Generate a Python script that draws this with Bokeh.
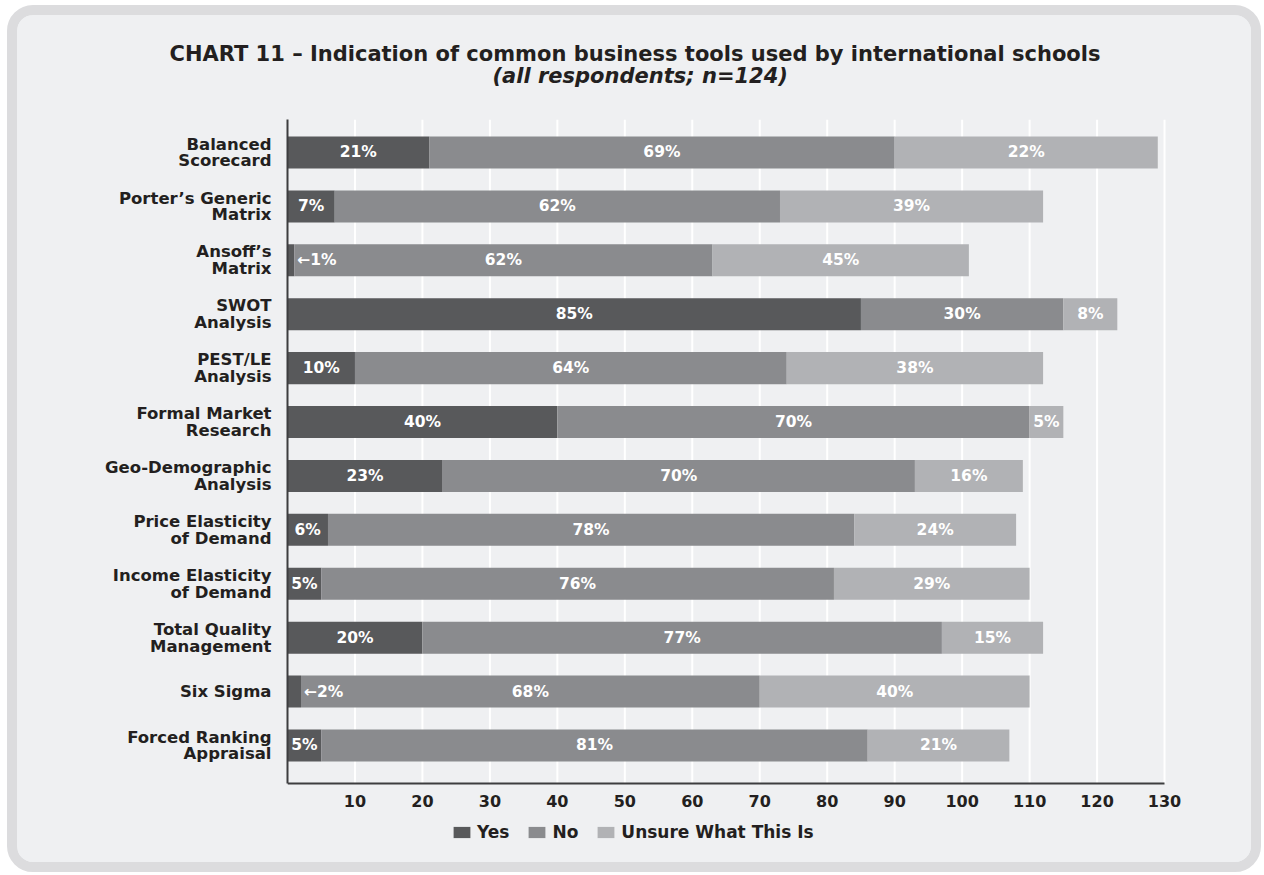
from bokeh.plotting import figure
from bokeh.models import (ColumnDataSource, Range1d, FixedTicker, Legend,
                          LegendItem, LabelSet, Title)
from bokeh.core.properties import value
from bokeh.embed import file_html
from bokeh.resources import INLINE

# ---------------- data ----------------
categories = ["Balanced\nScorecard", "Porter\u2019s Generic\nMatrix", "Ansoff\u2019s\nMatrix",
              "SWOT\nAnalysis", "PEST/LE\nAnalysis", "Formal Market\nResearch",
              "Geo-Demographic\nAnalysis", "Price Elasticity\nof Demand",
              "Income Elasticity\nof Demand", "Total Quality\nManagement",
              "Six Sigma", "Forced Ranking\nAppraisal"]
yes = [21, 7, 1, 85, 10, 40, 23, 6, 5, 20, 2, 5]
no = [69, 66, 62, 30, 64, 70, 70, 78, 76, 77, 68, 81]
unsure = [39, 39, 38, 8, 38, 5, 16, 24, 29, 15, 40, 21]
yes_labels = ["21%", "7%", "1%", "85%", "10%", "40%", "23%", "6%", "5%", "20%", "2%", "5%"]
no_labels = ["69%", "62%", "62%", "30%", "64%", "70%", "70%", "78%", "76%", "77%", "68%", "81%"]
unsure_labels = ["22%", "39%", "45%", "8%", "38%", "5%", "16%", "24%", "29%", "15%", "40%", "21%"]
series_names = ["Yes", "No", "Unsure What This Is"]
x_ticks = [10, 20, 30, 40, 50, 60, 70, 80, 90, 100, 110, 120, 130]
title_text = "CHART 11 \u2013 Indication of common business tools used by international schools"
subtitle_text = "(all respondents; n=124)"

colors = ["#58595b", "#8a8b8e", "#b1b2b5"]
FONT = "DejaVu Sans"
DARK = "#231f20"
BG = "#eff0f2"

n = len(categories)
ys = list(range(n))
yes_end = yes[:]
no_end = [a + b for a, b in zip(yes, no)]
un_end = [a + b for a, b in zip(no_end, unsure)]

# layout of the axes (data units)
X_MAX = 130
X_VIEW = 132.96          # a little room to the right so the last tick label is not cut
Y_TOP = -0.612
Y_AXIS = 11.705
Y_BOTTOM = 12.818

src = ColumnDataSource(dict(
    y=ys, yes_l=[0] * n, yes_r=yes_end, no_l=yes_end, no_r=no_end,
    un_l=no_end, un_r=un_end,
))

p = figure(width=1234, height=847, output_backend="svg", toolbar_location=None,
           x_range=Range1d(0, X_VIEW), y_range=Range1d(Y_BOTTOM, Y_TOP),
           min_border_left=270, min_border_right=87, min_border_top=104,
           min_border_bottom=39)
p.styles = {"position": "absolute", "left": "7px", "top": "5px",
            "border": "10px solid #dcdcde", "border-radius": "26px",
            "overflow": "hidden", "box-sizing": "content-box",
            "background-color": BG}
p.border_fill_color = BG
p.background_fill_color = BG
p.outline_line_color = None

# vertical white grid lines (from the tick list), ending at the x axis
p.segment(x0=x_ticks, x1=x_ticks, y0=[Y_TOP] * len(x_ticks), y1=[Y_AXIS] * len(x_ticks),
          line_color="white", line_width=2, level="underlay")

h = 0.594
r_yes = p.hbar(y="y", left="yes_l", right="yes_r", height=h, source=src,
               fill_color=colors[0], line_color=None)
r_no = p.hbar(y="y", left="no_l", right="no_r", height=h, source=src,
              fill_color=colors[1], line_color=None)
r_un = p.hbar(y="y", left="un_l", right="un_r", height=h, source=src,
              fill_color=colors[2], line_color=None)

# bar labels
lx, ly, lt, la, lo = [], [], [], [], []
for i in range(n):
    if yes[i] < 3:
        lx.append(yes_end[i]); lt.append("\u2190" + yes_labels[i]); la.append("left"); lo.append(3)
    else:
        lx.append(yes[i] / 2); lt.append(yes_labels[i]); la.append("center"); lo.append(0)
    ly.append(i)
    lx.append(yes_end[i] + no[i] / 2); ly.append(i); lt.append(no_labels[i]); la.append("center"); lo.append(0)
    lx.append(no_end[i] + unsure[i] / 2); ly.append(i); lt.append(unsure_labels[i]); la.append("center"); lo.append(0)
lsrc = ColumnDataSource(dict(x=lx, y=ly, t=lt, a=la, o=lo))
labels = LabelSet(x="x", y="y", text="t", source=lsrc, text_align="a", x_offset="o",
                  text_baseline="middle", text_color="white", text_font=value(FONT),
                  text_font_style="bold", text_font_size="15.5px")
p.add_layout(labels)

# axes
p.xaxis.fixed_location = Y_AXIS
p.xaxis.bounds = (0, X_MAX)
p.xaxis.ticker = FixedTicker(ticks=x_ticks)
p.xaxis.major_tick_line_color = None
p.xaxis.minor_tick_line_color = None
p.xaxis.axis_line_color = "#3d3d3f"
p.xaxis.axis_line_width = 2
p.xaxis.major_label_text_font = FONT
p.xaxis.major_label_text_font_style = "bold"
p.xaxis.major_label_text_font_size = "16px"
p.xaxis.major_label_text_color = DARK
p.xaxis.major_label_standoff = 6

p.yaxis.ticker = FixedTicker(ticks=ys)
p.yaxis.bounds = (Y_TOP, Y_AXIS)
p.yaxis.major_label_overrides = {i: c for i, c in enumerate(categories)}
p.yaxis.major_tick_line_color = None
p.yaxis.minor_tick_line_color = None
p.yaxis.axis_line_color = "#3d3d3f"
p.yaxis.axis_line_width = 2
p.yaxis.major_label_text_font = FONT
p.yaxis.major_label_text_font_style = "bold"
p.yaxis.major_label_text_font_size = "16.5px"
p.yaxis.major_label_text_color = DARK
p.yaxis.major_label_text_line_height = 0.88
p.yaxis.major_label_standoff = 10

p.xgrid.grid_line_color = None
p.ygrid.grid_line_color = None

# titles (first added sits closest to the frame)
p.add_layout(Title(text=" ", text_font_size="1px", standoff=29), "above")
p.add_layout(Title(text=subtitle_text, align="left", offset=205, standoff=0,
                   text_font=FONT, text_font_style="bold italic",
                   text_font_size="21px", text_color=DARK), "above")
p.add_layout(Title(text=title_text, align="left", offset=-118, standoff=-8,
                   text_font=FONT, text_font_style="bold",
                   text_font_size="21px", text_color=DARK), "above")

# legend (inside the frame, below the x axis)
legend = Legend(items=[LegendItem(label=series_names[0], renderers=[r_yes]),
                       LegendItem(label=series_names[1], renderers=[r_no]),
                       LegendItem(label=series_names[2], renderers=[r_un])],
                orientation="horizontal", location=(164, 1),
                glyph_width=21, glyph_height=14, label_height=14, label_standoff=5,
                spacing=17, padding=0, margin=0, border_line_color=None,
                background_fill_alpha=0, label_text_font=FONT,
                label_text_font_style="bold", label_text_font_size="17px",
                label_text_color=DARK)
p.add_layout(legend, "center")

open("out.html", "w").write(file_html(p, INLINE))
